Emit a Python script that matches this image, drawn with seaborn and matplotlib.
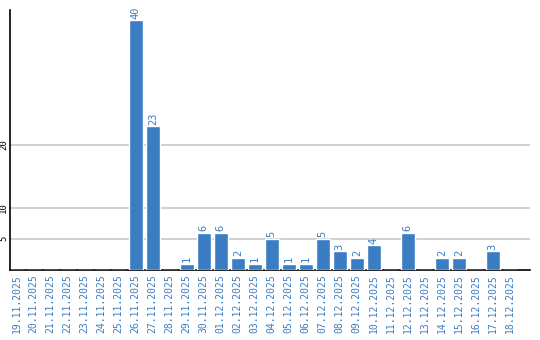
import matplotlib
matplotlib.use("Agg")
import matplotlib.pyplot as plt
import seaborn as sns
import pandas as pd

dates = ["19.11.2025", "20.11.2025", "21.11.2025", "22.11.2025", "23.11.2025",
         "24.11.2025", "25.11.2025", "26.11.2025", "27.11.2025", "28.11.2025",
         "29.11.2025", "30.11.2025", "01.12.2025", "02.12.2025", "03.12.2025",
         "04.12.2025", "05.12.2025", "06.12.2025", "07.12.2025", "08.12.2025",
         "09.12.2025", "10.12.2025", "11.12.2025", "12.12.2025", "13.12.2025",
         "14.12.2025", "15.12.2025", "16.12.2025", "17.12.2025", "18.12.2025"]
values = [0, 0, 0, 0, 0, 0, 0, 40, 23, 0,
          1, 6, 6, 2, 1, 5, 1, 1, 5, 3,
          2, 4, 0, 6, 0, 2, 2, 0, 3, 0]
yticks = [5, 10, 20]

BLUE = "#3a7dc2"

sns.set_style("white")
plt.rcParams["font.family"] = ["DejaVu Sans Mono", "DejaVu Sans"]

df = pd.DataFrame({"date": dates, "value": values})

fig = plt.figure(figsize=(5.4, 3.4), dpi=100)
ax = fig.add_axes([10 / 540, 1 - 270 / 340, 520 / 540, 260 / 340])

sns.barplot(data=df, x="date", y="value", color=BLUE, saturation=1,
            width=0.84, ax=ax, zorder=3)

ax.set_ylim(0, 41.6)
ax.set_xlim(-0.4, 30.19)
ax.set_yticks(yticks)
ax.set_yticklabels([str(t) for t in yticks], rotation=90, va="center",
                   fontsize=6.5, color="black")
ax.yaxis.grid(True, color="#c8c8c8", linewidth=1.2, zorder=0)
ax.set_axisbelow(True)
ax.tick_params(axis="y", length=0, pad=1.5)
ax.tick_params(axis="x", length=0, pad=3)
ax.set_xticks(range(len(dates)))
ax.set_xticklabels(dates, rotation=90, fontsize=7, color=BLUE)
ax.set_xlabel("")
ax.set_ylabel("")

for s in ["top", "right"]:
    ax.spines[s].set_visible(False)
for s in ["left", "bottom"]:
    ax.spines[s].set_color("black")
    ax.spines[s].set_linewidth(1.2)

cont = ax.containers[0]
labels = [str(v) if v > 0 else "" for v in values]
ax.bar_label(cont, labels=labels, rotation=90, color=BLUE, fontsize=7.5,
             padding=1)

fig.savefig("out.png", dpi=100)
